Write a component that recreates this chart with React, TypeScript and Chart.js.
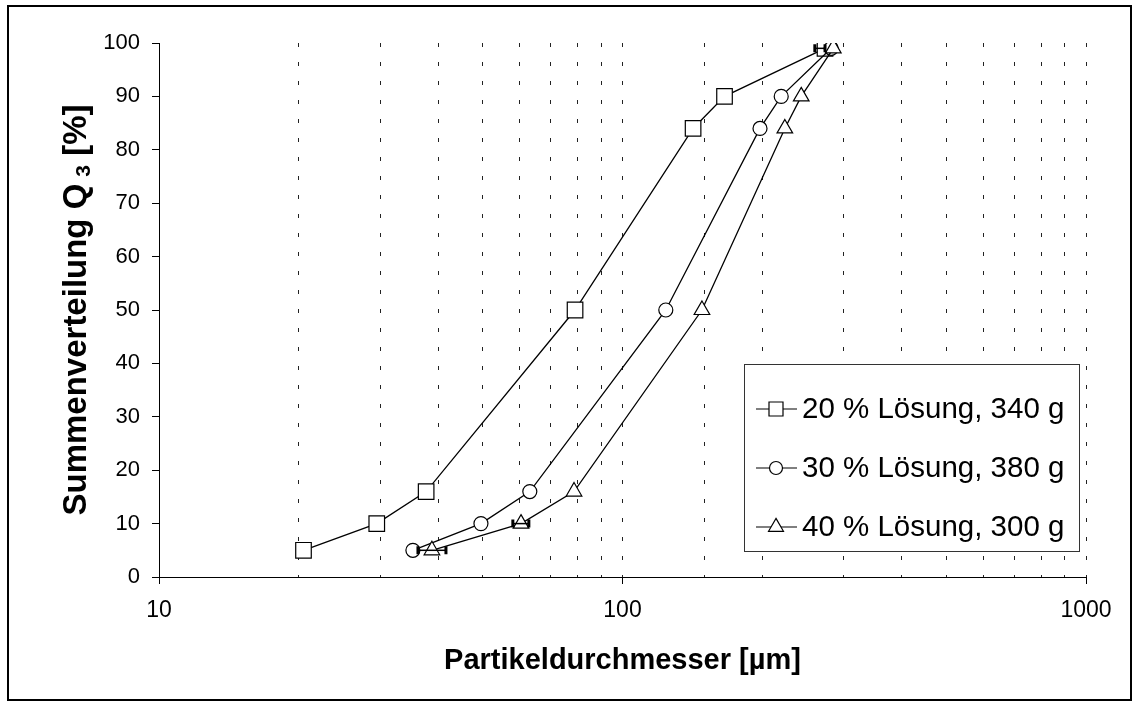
import React, { useEffect, useRef } from 'react';
import { Chart, registerables } from 'chart.js';

Chart.register(...registerables);

// ---- data ----
const yLevels = [5, 10, 16, 50, 84, 90, 99];
const series20 = [20.5, 29.5, 37.7, 79, 142, 166, 273.5];
const series30 = [35.3, 49.5, 63.1, 124, 198, 220, 282];
const series40 = [38.8, 60.4, 78.6, 148.4, 224, 243, 285];
const seriesLabels = ['20 % Lösung, 340 g', '30 % Lösung, 380 g', '40 % Lösung, 300 g'];
const seriesMarkers = ['rect', 'circle', 'triangle'];
const xTickLabels = [10, 100, 1000];
const yTickStep = 10;
// horizontal error bars: series index, point index, low x, high x
const errSeries = [2, 2, 0];
const errPoint = [0, 1, 6];
const errLow = [36.2, 58.0, 260];
const errHigh = [41.6, 62.8, 273.5];

const FONT = '"Liberation Sans", Arial, sans-serif';

function drawMarker(ctx: CanvasRenderingContext2D, style: string, x: number, y: number, s: number) {
  ctx.beginPath();
  if (style === 'rect') {
    ctx.rect(x - s, y - s, 2 * s, 2 * s);
  } else if (style === 'circle') {
    ctx.arc(x, y, s, 0, Math.PI * 2);
  } else {
    const r = s * 1.15;
    ctx.moveTo(x, y - r);
    ctx.lineTo(x + r * Math.sin((2 * Math.PI) / 3), y - r * Math.cos((2 * Math.PI) / 3));
    ctx.lineTo(x + r * Math.sin((4 * Math.PI) / 3), y - r * Math.cos((4 * Math.PI) / 3));
    ctx.closePath();
  }
  ctx.fillStyle = '#fff';
  ctx.fill();
  ctx.strokeStyle = '#000';
  ctx.lineWidth = 1.2;
  ctx.stroke();
}

const decorPlugin = {
  id: 'decor',
  beforeDraw(chart: any) {
    const ctx = chart.ctx as CanvasRenderingContext2D;
    ctx.save();
    ctx.fillStyle = '#fff';
    ctx.fillRect(0, 0, chart.width, chart.height);
    ctx.strokeStyle = '#000';
    ctx.lineWidth = 2;
    ctx.strokeRect(8, 6, 1123, 694);
    ctx.restore();
  },
  afterDatasetsDraw(chart: any) {
    const ctx = chart.ctx as CanvasRenderingContext2D;
    const xs = chart.scales.x;
    const ys = chart.scales.y;
    ctx.save();
    ctx.strokeStyle = '#000';
    for (let i = 0; i < errSeries.length; i++) {
      const y = ys.getPixelForValue(yLevels[errPoint[i]]);
      const x1 = xs.getPixelForValue(errLow[i]);
      const x2 = xs.getPixelForValue(errHigh[i]);
      ctx.lineWidth = 1.5;
      ctx.beginPath();
      ctx.moveTo(x1, y);
      ctx.lineTo(x2, y);
      ctx.stroke();
      ctx.lineWidth = 3;
      ctx.beginPath();
      ctx.moveTo(x1, y - 4);
      ctx.lineTo(x1, y + 4);
      ctx.moveTo(x2, y - 4);
      ctx.lineTo(x2, y + 4);
      ctx.stroke();
    }
    ctx.restore();
  },
  afterDraw(chart: any) {
    const ctx = chart.ctx as CanvasRenderingContext2D;
    const area = chart.chartArea;
    ctx.save();
    ctx.fillStyle = '#000';
    // x title
    ctx.font = `bold 29px ${FONT}`;
    ctx.textAlign = 'center';
    ctx.textBaseline = 'middle';
    ctx.fillText('Partikeldurchmesser [µm]', (area.left + area.right) / 2, 661);

    // y title with subscript
    ctx.translate(74, (area.top + area.bottom) / 2);
    ctx.rotate(-Math.PI / 2);
    ctx.textAlign = 'left';
    ctx.textBaseline = 'alphabetic';
    const main = 'Summenverteilung Q';
    const sub = '3';
    const tail = ' [%]';
    const big = 33;
    const small = 21;
    ctx.font = `bold ${big}px ${FONT}`;
    const wMain = ctx.measureText(main).width;
    const wTail = ctx.measureText(tail).width;
    ctx.font = `bold ${small}px ${FONT}`;
    const gap = 7;
    const wSub = ctx.measureText(sub).width;
    const total = wMain + gap + wSub + wTail;
    let x0 = -total / 2;
    const base = 12;
    ctx.font = `bold ${big}px ${FONT}`;
    ctx.fillText(main, x0, base);
    x0 += wMain + gap;
    ctx.font = `bold ${small}px ${FONT}`;
    ctx.fillText(sub, x0, base + 4);
    x0 += wSub;
    ctx.font = `bold ${big}px ${FONT}`;
    ctx.fillText(tail, x0, base);
    ctx.restore();

    // legend
    ctx.save();
    const lx = 744, ly = 364, lw = 335, lh = 187;
    ctx.fillStyle = '#fff';
    ctx.fillRect(lx, ly, lw, lh);
    ctx.strokeStyle = '#333';
    ctx.lineWidth = 1;
    ctx.strokeRect(lx + 0.5, ly + 0.5, lw, lh);
    const rows = [409, 468, 527];
    chart.data.datasets.forEach((ds: any, i: number) => {
      const y = rows[i];
      ctx.strokeStyle = '#000';
      ctx.lineWidth = 1.2;
      ctx.beginPath();
      ctx.moveTo(756, y);
      ctx.lineTo(797, y);
      ctx.stroke();
      const size = seriesMarkers[i] === 'rect' ? 7 : seriesMarkers[i] === 'circle' ? 6.5 : 7.5;
      drawMarker(ctx, seriesMarkers[i], 776, y, size);
      ctx.fillStyle = '#000';
      ctx.font = `29.5px ${FONT}`;
      ctx.textAlign = 'left';
      ctx.textBaseline = 'middle';
      ctx.fillText(ds.label, 802, y + 1);
    });
    ctx.restore();
  },
};

export default function App() {
  const ref = useRef<HTMLCanvasElement | null>(null);

  useEffect(() => {
    if (!ref.current) return;
    const mk = (xs: number[]) => xs.map((x, i) => ({ x, y: yLevels[i] }));
    const allSeries = [series20, series30, series40];
    const radii = [11, 7, 9];
    const chart = new Chart(ref.current, {
      type: 'scatter',
      data: {
        datasets: allSeries.map((s, i) => ({
          label: seriesLabels[i],
          data: mk(s),
          showLine: true,
          borderColor: '#000',
          borderWidth: 1.3,
          pointStyle: seriesMarkers[i] as any,
          pointRadius: radii[i],
          pointHoverRadius: radii[i],
          pointBackgroundColor: '#fff',
          pointBorderColor: '#000',
          pointBorderWidth: 1.2,
          order: 2 - i,
        })),
      },
      options: {
        animation: false,
        responsive: false,
        devicePixelRatio: 1,
        layout: { padding: { left: 0, right: 52, top: 43, bottom: 0 } },
        plugins: {
          legend: { display: false },
          tooltip: { enabled: false },
          title: { display: false },
        },
        scales: {
          x: {
            type: 'logarithmic',
            min: 10,
            max: 1000,
            afterFit: (s: any) => {
              s.height = 127;
            },
            border: { display: true, color: '#000', width: 1, dash: [4, 15] },
            grid: {
              display: true,
              drawOnChartArea: true,
              drawTicks: true,
              tickLength: 7,
              color: '#222',
              lineWidth: 1,
              tickColor: (c: any) => (xTickLabels.includes(c.tick?.value) ? '#000' : 'rgba(0,0,0,0)'),
            },
            ticks: {
              autoSkip: false,
              maxRotation: 0,
              minRotation: 0,
              padding: 13,
              color: '#000',
              font: { family: FONT, size: 23 },
              callback: (v: any) => (xTickLabels.includes(Number(v)) ? String(v) : ''),
            },
          },
          y: {
            type: 'linear',
            min: 0,
            max: 100,
            afterFit: (s: any) => {
              s.width = 159;
            },
            border: { display: true, color: '#000', width: 1 },
            grid: {
              display: true,
              drawOnChartArea: false,
              drawTicks: true,
              tickLength: 7,
              tickColor: '#000',
            },
            ticks: {
              stepSize: yTickStep,
              padding: 12,
              color: '#000',
              font: { family: FONT, size: 22 },
            },
          },
        },
      },
      plugins: [decorPlugin],
    });
    return () => chart.destroy();
  }, []);

  return (
    <div style={{ position: 'absolute', left: 0, top: 0, width: 1138, height: 704 }}>
      <canvas ref={ref} width={1138} height={704} style={{ display: 'block' }} />
    </div>
  );
}
